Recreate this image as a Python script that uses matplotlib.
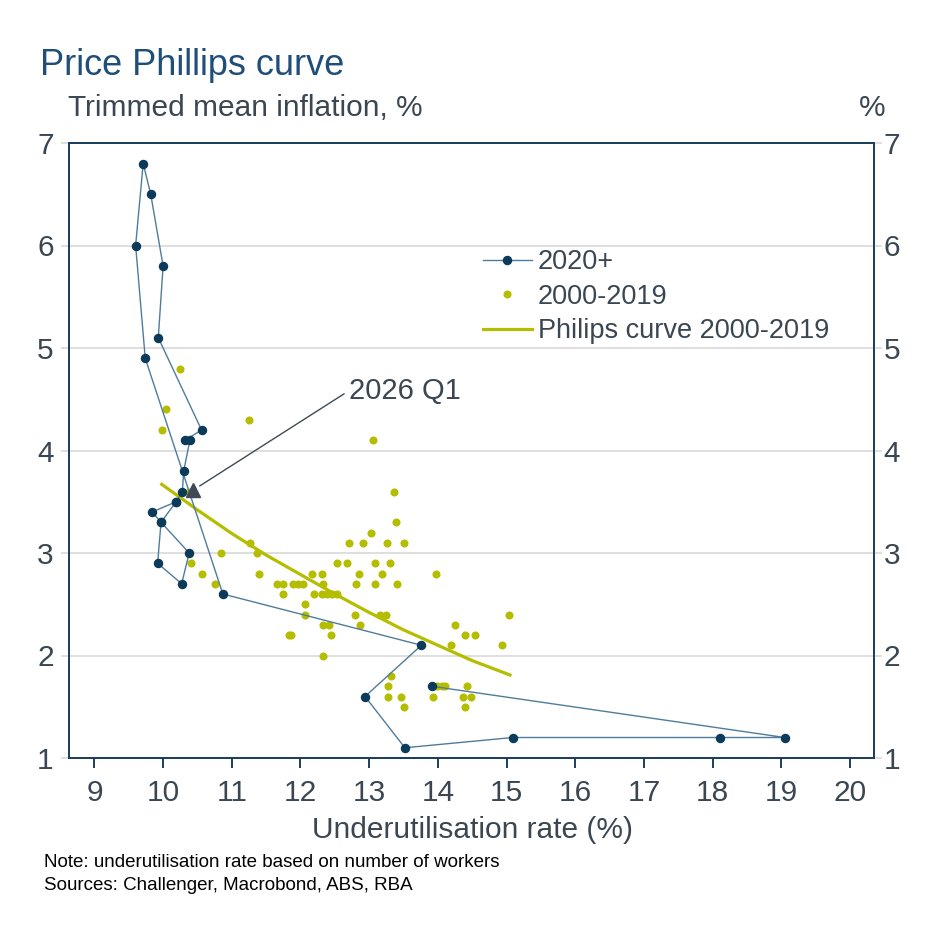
import matplotlib
matplotlib.use('Agg')
import matplotlib.pyplot as plt

plt.rcParams['font.family'] = ['Liberation Sans', 'DejaVu Sans']

# 2020+ quarters, in order
x_2020 = [13.91, 19.05, 18.11, 15.09, 13.52, 12.94, 13.76, 10.87, 9.74, 9.60,
          9.71, 9.82, 10.00, 9.93, 10.56, 10.32, 10.39, 10.30, 10.28, 10.19,
          9.84, 9.97, 9.92, 10.27, 10.38, 9.97, 10.19]
y_2020 = [1.7, 1.2, 1.2, 1.2, 1.1, 1.6, 2.1, 2.6, 4.9, 6.0,
          6.8, 6.5, 5.8, 5.1, 4.2, 4.1, 4.1, 3.8, 3.6, 3.5,
          3.4, 3.3, 2.9, 2.7, 3.0, 3.3, 3.5]

# 2000-2019 quarters
x_2000 = [10.24, 10.04, 9.98, 11.25, 13.05, 13.36, 10.37, 13.39, 13.03,
          11.26, 12.71, 12.91, 13.26, 13.50,
          10.85, 11.37,
          10.40, 12.53, 12.68, 13.08, 13.30,
          10.57, 11.39, 12.17, 12.31, 12.85, 13.18, 13.97,
          10.76, 11.66, 11.74, 11.89, 11.96, 12.04, 12.33, 12.81, 13.08, 13.41,
          11.74, 12.20, 12.31, 12.38, 12.46, 12.53,
          12.06,
          12.07, 12.80, 13.16, 13.24, 15.04,
          12.33, 12.41, 12.86, 14.25,
          11.83, 11.86, 12.45, 14.39, 14.54,
          14.19, 14.94,
          12.33,
          13.32,
          13.28, 13.99, 14.06, 14.11, 14.43,
          13.28, 13.47, 13.93, 14.36, 14.48,
          13.51, 14.40]
y_2000 = [4.8, 4.4, 4.2, 4.3, 4.1, 3.6, 3.6, 3.3, 3.2,
          3.1, 3.1, 3.1, 3.1, 3.1,
          3.0, 3.0,
          2.9, 2.9, 2.9, 2.9, 2.9,
          2.8, 2.8, 2.8, 2.8, 2.8, 2.8, 2.8,
          2.7, 2.7, 2.7, 2.7, 2.7, 2.7, 2.7, 2.7, 2.7, 2.7,
          2.6, 2.6, 2.6, 2.6, 2.6, 2.6,
          2.5,
          2.4, 2.4, 2.4, 2.4, 2.4,
          2.3, 2.3, 2.3, 2.3,
          2.2, 2.2, 2.2, 2.2, 2.2,
          2.1, 2.1,
          2.0,
          1.8,
          1.7, 1.7, 1.7, 1.7, 1.7,
          1.6, 1.6, 1.6, 1.6, 1.6,
          1.5, 1.5]

# fitted curve
curve_x = [9.98, 10.5, 11.0, 11.5, 12.0, 12.5, 13.0, 13.5, 14.0, 14.5, 15.05]
curve_y = [3.67, 3.42, 3.19, 2.98, 2.79, 2.60, 2.42, 2.25, 2.10, 1.95, 1.81]

q1_2026 = (10.43, 3.61)

xticks = list(range(9, 21))
yticks = list(range(1, 8))

navy = '#0B3A5A'
navy_line = '#4F7C9C'
olive = '#B5BD00'
txt = '#3A4651'
title_col = '#1F4E79'
spine_col = '#1B3F5E'

fig = plt.figure(figsize=(9.43, 9.43), dpi=100)
W = H = 943.0
ax = fig.add_axes([69 / W, 1 - 758 / H, (874 - 69) / W, (758 - 143) / H])

sc, = ax.plot(x_2000, y_2000, linestyle='none', marker='o', ms=5.8,
              color=olive, mec='none', zorder=2, label='2000-2019')
cv, = ax.plot(curve_x, curve_y, color=olive, lw=2.3, zorder=3,
              label='Philips curve 2000-2019')
ln, = ax.plot(x_2020, y_2020, color=navy_line, lw=1.0, marker='o', ms=5.8,
              mfc=navy, mec=navy, zorder=4, label='2020+')
ax.plot(q1_2026[0], q1_2026[1], marker='^', ms=10, color='#3F4A54', zorder=5)

ax.annotate('2026 Q1', xy=q1_2026, xytext=(12.71, 4.585), ha='left', va='center',
            fontsize=21, color=txt,
            arrowprops=dict(arrowstyle='-', color='#3F4A54', lw=1.0,
                            relpos=(0, 0.5), shrinkA=2, shrinkB=6))

ax.set_xlim(8.63, 20.35)
ax.set_ylim(1, 7)
ax.set_xticks(xticks)
ax.set_yticks(yticks)
ax.yaxis.grid(True, color='#D9D9D9', lw=1.2)
ax.set_axisbelow(True)

# right hand axis just repeats the left scale
ax2 = ax.twinx()
ax2.set_ylim(1, 7)
ax2.set_yticks(yticks)

for a in (ax, ax2):
    for s in a.spines.values():
        s.set_color(spine_col)
        s.set_linewidth(1.3)

ax.tick_params(axis='x', direction='out', length=7, width=1.4, color=spine_col,
               pad=8, labelsize=21.5, labelcolor=txt)
ax.tick_params(axis='y', direction='out', length=6, width=1.2, color='#D9D9D9',
               pad=5, labelsize=21.5, labelcolor=txt)
ax2.tick_params(axis='y', direction='out', length=6, width=1.2, color='#D9D9D9',
                pad=1, labelsize=21.5, labelcolor=txt)

ax.legend(handles=[ln, sc, cv], loc='upper left',
          bbox_to_anchor=(482.7 / W, 1 - 249 / H), bbox_transform=fig.transFigure,
          frameon=False, fontsize=19.5, handlelength=1.83, handletextpad=0.2,
          labelspacing=0.32, borderpad=0, borderaxespad=0, labelcolor=txt,
          numpoints=1)

fig.text(40 / W, 1 - 75 / H, 'Price Phillips curve', fontsize=26,
         color=title_col, va='baseline')
fig.text(68 / W, 1 - 116 / H, 'Trimmed mean inflation, %', fontsize=21.5,
         color=txt, va='baseline')
fig.text(885 / W, 1 - 116 / H, '%', fontsize=21.5, color=txt, va='baseline',
         ha='right')
fig.text(473 / W, 1 - 838 / H, 'Underutilisation rate (%)', fontsize=21.5,
         color=txt, va='baseline', ha='center')
fig.text(44 / W, 1 - 867 / H, 'Note: underutilisation rate based on number of workers',
         fontsize=13.5, color='black', va='baseline')
fig.text(44 / W, 1 - 890 / H, 'Sources: Challenger, Macrobond, ABS, RBA',
         fontsize=13.5, color='black', va='baseline')

fig.savefig('out.png', dpi=100)
